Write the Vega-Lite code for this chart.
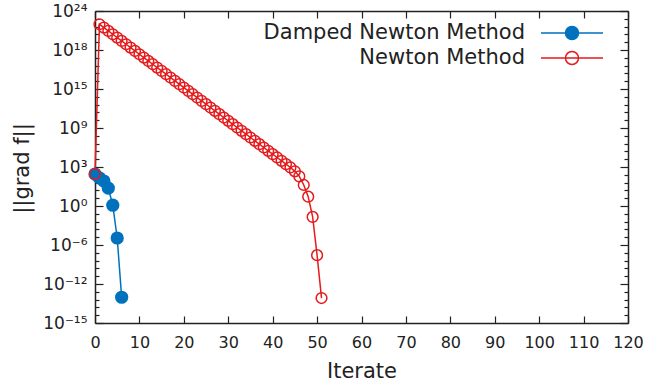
{
  "$schema": "https://vega.github.io/schema/vega-lite/v6.json",
  "width": 533,
  "height": 312,
  "autosize": "none",
  "padding": {"left": 95, "top": 11, "right": 17, "bottom": 62},
  "background": "white",
  "config": {
    "font": "DejaVu Sans",
    "view": {"stroke": null},
    "axis": {
      "labelFont": "DejaVu Sans", "titleFont": "DejaVu Sans",
      "labelColor": "#222", "titleColor": "#222",
      "domainColor": "#222", "tickColor": "#222",
      "domainWidth": 1.5, "tickWidth": 1.2, "grid": false,
      "labelFontSize": 16, "titleFontSize": 21, "titleFontWeight": "normal"
    },
    "legend": {
      "orient": "none", "legendX": 466, "legendY": 11, "title": null,
      "symbolType": "M-3.1,0H3.1M0.65,0A0.65,0.65,0,1,1,-0.65,0A0.65,0.65,0,1,1,0.65,0Z",
      "symbolSize": 400, "symbolStrokeWidth": 1.5,
      "labelAlign": "right", "labelOffset": -58, "labelFontSize": 21, "labelFont": "DejaVu Sans",
      "labelColor": "#222", "labelLimit": 0, "rowPadding": 4
    }
  },
  "data": {"values": [
    {"method": "Damped Newton Method", "iter": 0, "grad": 1.26e4},
    {"method": "Damped Newton Method", "iter": 1, "grad": 3.98e3},
    {"method": "Damped Newton Method", "iter": 2, "grad": 1.58e3},
    {"method": "Damped Newton Method", "iter": 3, "grad": 2.0e2},
    {"method": "Damped Newton Method", "iter": 4, "grad": 1.26},
    {"method": "Damped Newton Method", "iter": 5, "grad": 7.9e-5},
    {"method": "Damped Newton Method", "iter": 6, "grad": 2.0e-12},
    {"method": "Newton Method", "iter": 0, "grad": 1.26e4},
    {"method": "Newton Method", "iter": 1, "grad": 2.0e23},
    {"method": "Newton Method", "iter": 2, "grad": 7.46e22},
    {"method": "Newton Method", "iter": 3, "grad": 2.79e22},
    {"method": "Newton Method", "iter": 4, "grad": 1.04e22},
    {"method": "Newton Method", "iter": 5, "grad": 3.91e21},
    {"method": "Newton Method", "iter": 6, "grad": 1.46e21},
    {"method": "Newton Method", "iter": 7, "grad": 5.47e20},
    {"method": "Newton Method", "iter": 8, "grad": 2.05e20},
    {"method": "Newton Method", "iter": 9, "grad": 7.66e19},
    {"method": "Newton Method", "iter": 10, "grad": 2.86e19},
    {"method": "Newton Method", "iter": 11, "grad": 1.07e19},
    {"method": "Newton Method", "iter": 12, "grad": 4.01e18},
    {"method": "Newton Method", "iter": 13, "grad": 1.50e18},
    {"method": "Newton Method", "iter": 14, "grad": 5.61e17},
    {"method": "Newton Method", "iter": 15, "grad": 2.10e17},
    {"method": "Newton Method", "iter": 16, "grad": 7.85e16},
    {"method": "Newton Method", "iter": 17, "grad": 2.94e16},
    {"method": "Newton Method", "iter": 18, "grad": 1.10e16},
    {"method": "Newton Method", "iter": 19, "grad": 4.11e15},
    {"method": "Newton Method", "iter": 20, "grad": 1.54e15},
    {"method": "Newton Method", "iter": 21, "grad": 5.75e14},
    {"method": "Newton Method", "iter": 22, "grad": 2.15e14},
    {"method": "Newton Method", "iter": 23, "grad": 8.05e13},
    {"method": "Newton Method", "iter": 24, "grad": 3.01e13},
    {"method": "Newton Method", "iter": 25, "grad": 1.13e13},
    {"method": "Newton Method", "iter": 26, "grad": 4.22e12},
    {"method": "Newton Method", "iter": 27, "grad": 1.58e12},
    {"method": "Newton Method", "iter": 28, "grad": 5.90e11},
    {"method": "Newton Method", "iter": 29, "grad": 2.21e11},
    {"method": "Newton Method", "iter": 30, "grad": 8.26e10},
    {"method": "Newton Method", "iter": 31, "grad": 3.09e10},
    {"method": "Newton Method", "iter": 32, "grad": 1.16e10},
    {"method": "Newton Method", "iter": 33, "grad": 4.33e9},
    {"method": "Newton Method", "iter": 34, "grad": 1.62e9},
    {"method": "Newton Method", "iter": 35, "grad": 6.05e8},
    {"method": "Newton Method", "iter": 36, "grad": 2.26e8},
    {"method": "Newton Method", "iter": 37, "grad": 8.47e7},
    {"method": "Newton Method", "iter": 38, "grad": 3.17e7},
    {"method": "Newton Method", "iter": 39, "grad": 1.19e7},
    {"method": "Newton Method", "iter": 40, "grad": 4.44e6},
    {"method": "Newton Method", "iter": 41, "grad": 1.66e6},
    {"method": "Newton Method", "iter": 42, "grad": 6.21e5},
    {"method": "Newton Method", "iter": 43, "grad": 2.32e5},
    {"method": "Newton Method", "iter": 44, "grad": 8.7e4},
    {"method": "Newton Method", "iter": 45, "grad": 2.8e4},
    {"method": "Newton Method", "iter": 46, "grad": 6.3e3},
    {"method": "Newton Method", "iter": 47, "grad": 5.0e2},
    {"method": "Newton Method", "iter": 48, "grad": 15.8},
    {"method": "Newton Method", "iter": 49, "grad": 3.98e-2},
    {"method": "Newton Method", "iter": 50, "grad": 5.0e-7},
    {"method": "Newton Method", "iter": 51, "grad": 1.58e-12}
  ]},
  "layer": [
    {
      "mark": {"type": "line", "strokeWidth": 1.5},
      "encoding": {
        "x": {"field": "iter", "type": "quantitative",
          "scale": {"domain": [0, 120], "nice": false, "zero": false},
          "axis": {"orient": "bottom", "title": "Iterate", "values": [0,10,20,30,40,50,60,70,80,90,100,110,120],
            "tickSize": -7, "labelPadding": 18, "labelFlush": false, "labelOverlap": false,
            "titleBaseline": "alphabetic", "titleY": 54, "titleX": 266.5}},
        "y": {"field": "grad", "type": "quantitative",
          "scale": {"type": "log", "domain": [1e-15, 1e25], "nice": false},
          "axis": {"orient": "left", "title": "||grad f||",
            "values": [1e-15,1e-14,1e-13,1e-12,1e-11,1e-10,1e-9,1e-8,1e-7,1e-6,1e-5,1e-4,1e-3,1e-2,1e-1,1,1e1,1e2,1e3,1e4,1e5,1e6,1e7,1e8,1e9,1e10,1e11,1e12,1e13,1e14,1e15,1e16,1e17,1e18,1e19,1e20,1e21,1e22,1e23,1e24,1e25],
            "tickSize": {"condition": {"test": "round(log(datum.value)/LN10) % 5 === 0", "value": -8}, "value": -4},
            "labelPadding": 16, "labelFontSize": 17, "labelFlush": false, "labelOverlap": false, "labelBound": false,
            "labelExpr": "{'25':'10²⁴','20':'10¹⁸','15':'10¹⁵','10':'10⁹','5':'10³','0':'10⁰','-5':'10⁻⁶','-10':'10⁻¹²','-15':'10⁻¹⁵'}['' + round(log(datum.value)/LN10)] || ''",
            "titleAngle": -90, "titleBaseline": "alphabetic", "titleAlign": "center", "titleX": -67, "titleY": 157}},
        "color": {"field": "method", "type": "nominal",
          "scale": {"domain": ["Damped Newton Method", "Newton Method"], "range": ["#0072bd", "#e41a1c"]}}
      }
    },
    {
      "transform": [{"filter": "datum.method === 'Damped Newton Method'"}],
      "mark": {"type": "point", "filled": true, "size": 175, "opacity": 1},
      "encoding": {
        "x": {"field": "iter", "type": "quantitative",
          "axis": {"orient": "top", "title": null, "labels": false, "values": [0,10,20,30,40,50,60,70,80,90,100,110,120], "tickSize": -7}},
        "y": {"field": "grad", "type": "quantitative",
          "axis": {"orient": "right", "title": null, "labels": false,
            "values": [1e-15,1e-14,1e-13,1e-12,1e-11,1e-10,1e-9,1e-8,1e-7,1e-6,1e-5,1e-4,1e-3,1e-2,1e-1,1,1e1,1e2,1e3,1e4,1e5,1e6,1e7,1e8,1e9,1e10,1e11,1e12,1e13,1e14,1e15,1e16,1e17,1e18,1e19,1e20,1e21,1e22,1e23,1e24,1e25],
            "tickSize": {"condition": {"test": "round(log(datum.value)/LN10) % 5 === 0", "value": -8}, "value": -4}}},
        "color": {"field": "method", "type": "nominal"},
        "fill": {"field": "method", "type": "nominal",
          "scale": {"domain": ["Damped Newton Method", "Newton Method"], "range": ["#0072bd", "white"]}}
      }
    },
    {
      "transform": [{"filter": "datum.method === 'Newton Method'"}],
      "mark": {"type": "point", "filled": false, "size": 115, "strokeWidth": 1.5, "opacity": 1, "fill": null},
      "encoding": {
        "x": {"field": "iter", "type": "quantitative", "axis": null},
        "y": {"field": "grad", "type": "quantitative", "axis": null},
        "color": {"field": "method", "type": "nominal"}
      }
    }
  ]
}
